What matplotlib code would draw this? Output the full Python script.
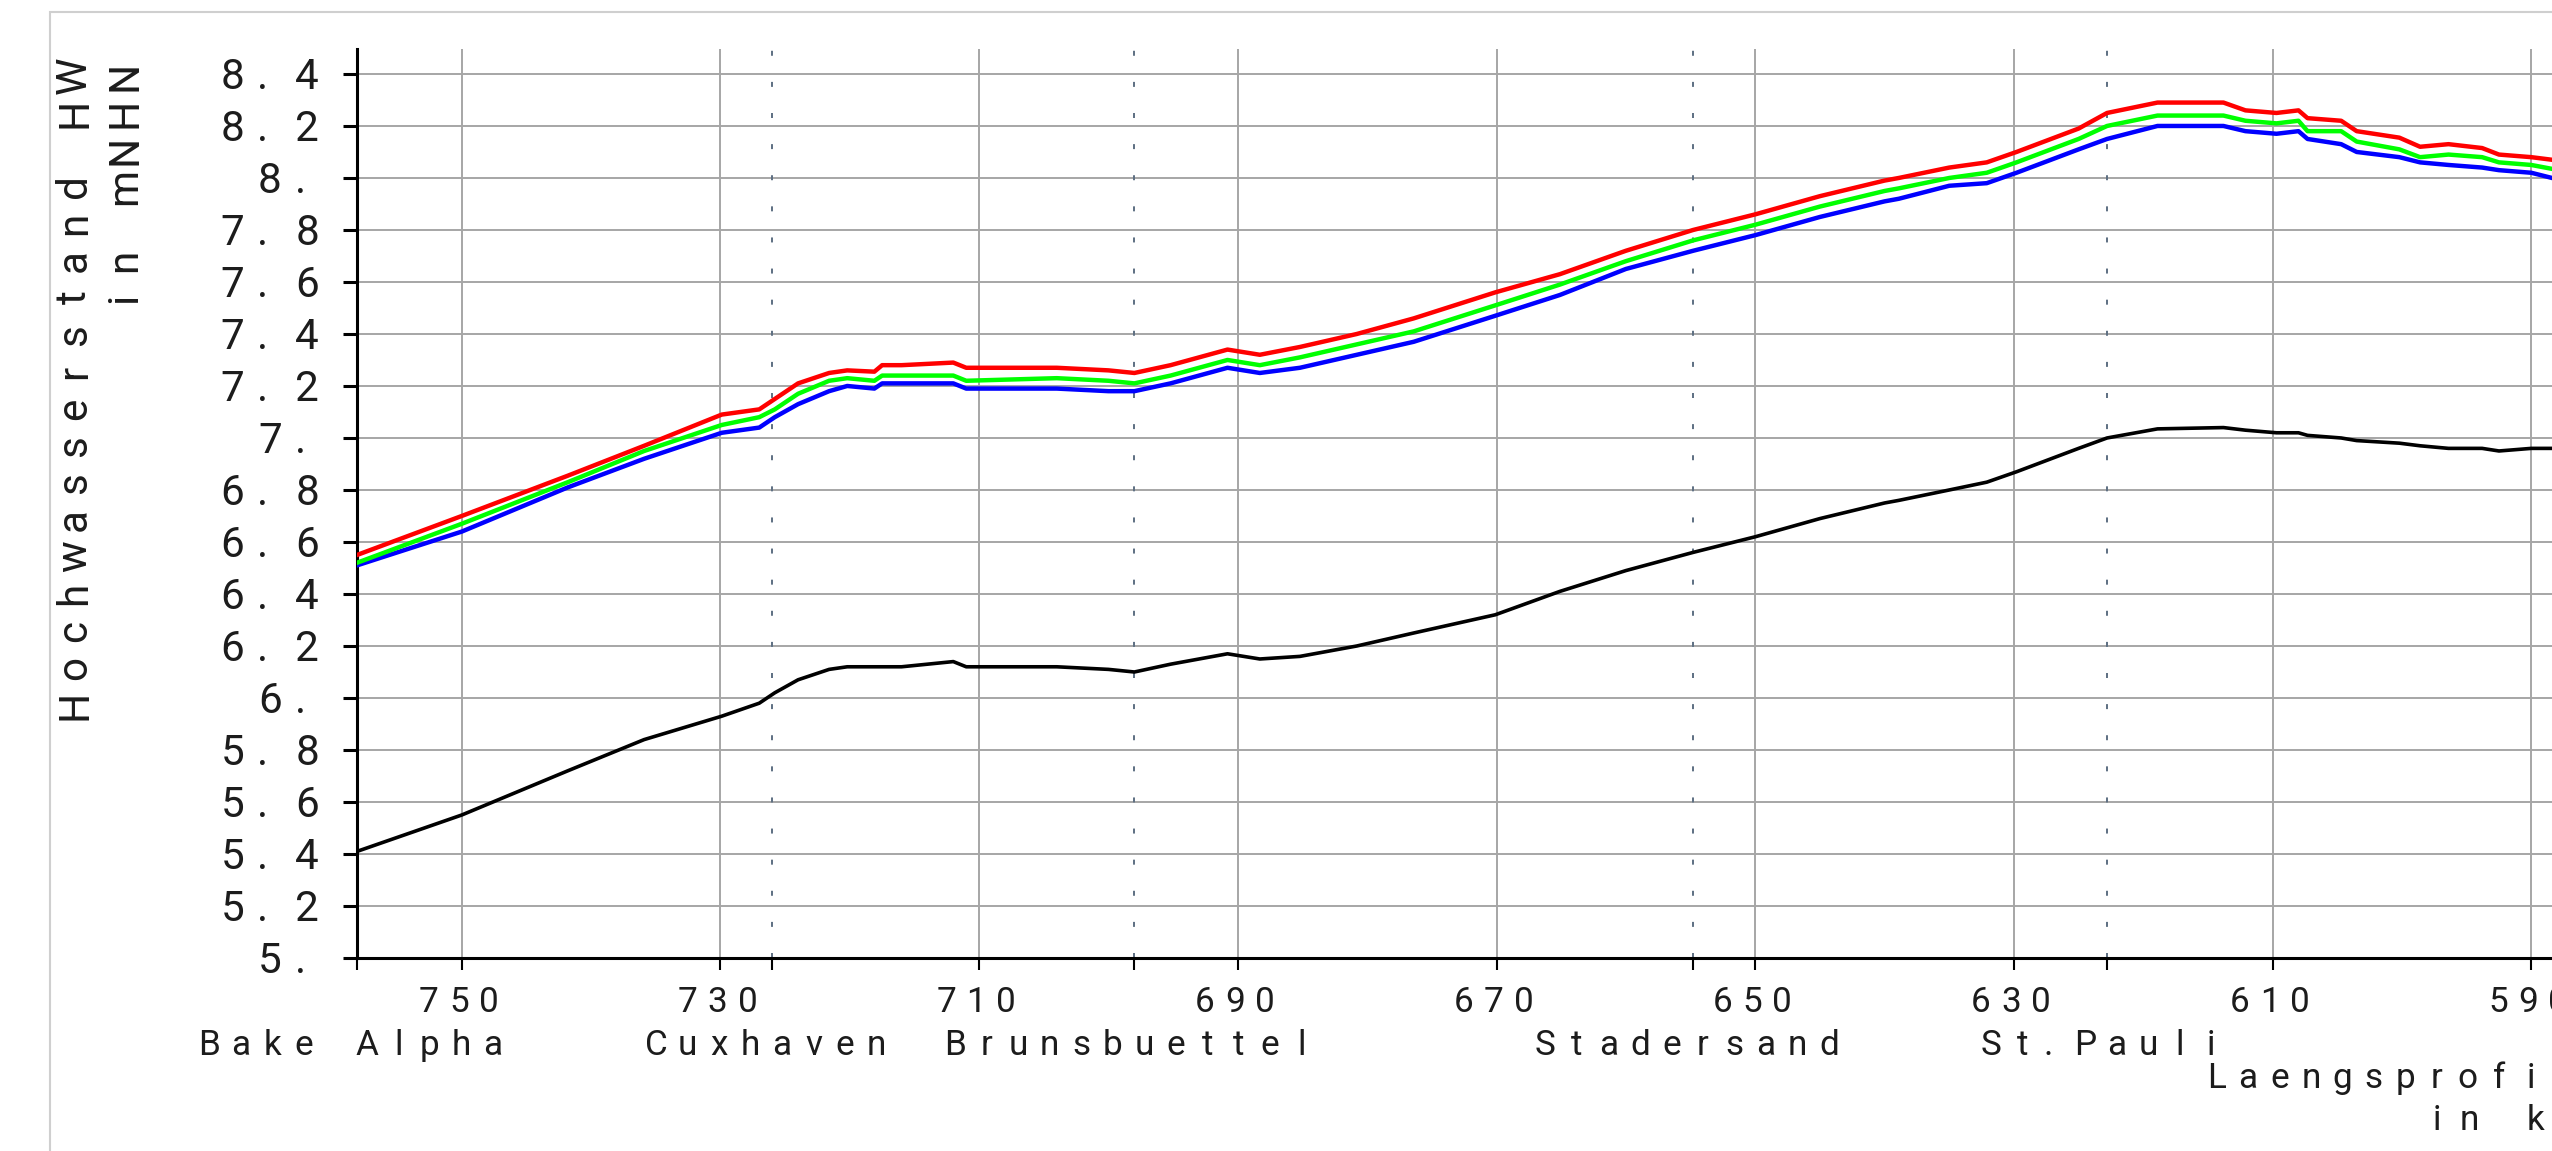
import numpy as np
import matplotlib
matplotlib.use("Agg")
import matplotlib.pyplot as plt
import matplotlib.transforms as mtransforms
from matplotlib.patches import Rectangle

plt.rcParams["lines.scale_dashes"] = False

### DATA
km = [758.1, 750.0, 741.8, 735.9, 729.9, 727.0, 725.8, 724.0, 721.6, 720.2,
      718.1, 717.5, 716.0, 712.0, 711.0, 704.0, 700.0, 698.0, 695.2, 690.8,
      688.3, 685.2, 680.8, 676.4, 670.1, 665.1, 660.0, 654.8, 650.0, 645.0,
      640.0, 638.9, 635.0, 632.1, 629.8, 625.0, 622.8, 618.9, 613.8, 612.1,
      609.7, 608.0, 607.3, 604.7, 603.5, 600.2, 598.6, 596.4, 593.8, 592.5,
      590.0, 588.4]
hw_black = [5.41, 5.55, 5.72, 5.84, 5.93, 5.98, 6.02, 6.07, 6.11, 6.12,
            6.12, 6.12, 6.12, 6.14, 6.12, 6.12, 6.11, 6.10, 6.13, 6.17,
            6.15, 6.16, 6.20, 6.25, 6.32, 6.41, 6.49, 6.56, 6.62, 6.69,
            6.75, 6.76, 6.80, 6.83, 6.87, 6.96, 7.00, 7.035, 7.04, 7.03,
            7.02, 7.02, 7.01, 7.00, 6.99, 6.98, 6.97, 6.96, 6.96, 6.95,
            6.96, 6.96]
hw_blue = [6.51, 6.64, 6.81, 6.92, 7.02, 7.04, 7.08, 7.13, 7.18, 7.20,
           7.19, 7.21, 7.21, 7.21, 7.19, 7.19, 7.18, 7.18, 7.21, 7.27,
           7.25, 7.27, 7.32, 7.37, 7.47, 7.55, 7.65, 7.72, 7.78, 7.85,
           7.91, 7.92, 7.97, 7.98, 8.02, 8.11, 8.15, 8.20, 8.20, 8.18,
           8.17, 8.18, 8.15, 8.13, 8.10, 8.08, 8.06, 8.05, 8.04, 8.03,
           8.02, 8.00]
hw_green = [6.52, 6.67, 6.83, 6.95, 7.05, 7.08, 7.11, 7.17, 7.22, 7.23,
            7.22, 7.24, 7.24, 7.24, 7.22, 7.23, 7.22, 7.21, 7.24, 7.30,
            7.28, 7.31, 7.36, 7.41, 7.51, 7.59, 7.68, 7.76, 7.82, 7.89,
            7.95, 7.96, 8.00, 8.02, 8.06, 8.15, 8.20, 8.24, 8.24, 8.22,
            8.21, 8.22, 8.18, 8.18, 8.14, 8.11, 8.08, 8.09, 8.08, 8.06,
            8.05, 8.035]
hw_red = [6.55, 6.70, 6.855, 6.97, 7.09, 7.11, 7.15, 7.21, 7.25, 7.26,
          7.255, 7.28, 7.28, 7.29, 7.27, 7.27, 7.26, 7.25, 7.28, 7.34,
          7.32, 7.35, 7.40, 7.46, 7.56, 7.63, 7.72, 7.80, 7.86, 7.93,
          7.99, 8.00, 8.04, 8.06, 8.10, 8.19, 8.25, 8.29, 8.29, 8.26,
          8.25, 8.26, 8.23, 8.22, 8.18, 8.155, 8.12, 8.13, 8.115, 8.09,
          8.08, 8.07]

station_names = ["Bake Alpha", "Cuxhaven", "Brunsbuettel", "Stadersand", "St.Pauli"]
station_km = [758.1, 726.0, 698.0, 654.8, 622.8]

x_ticks = [750, 730, 710, 690, 670, 650, 630, 610, 590]
x_labels = ["750", "730", "710", "690", "670", "650", "630", "610", "590"]
y_ticks = [5.0, 5.2, 5.4, 5.6, 5.8, 6.0, 6.2, 6.4, 6.6, 6.8,
           7.0, 7.2, 7.4, 7.6, 7.8, 8.0, 8.2, 8.4]
y_labels = ["5.", "5.2", "5.4", "5.6", "5.8", "6.", "6.2", "6.4", "6.6", "6.8",
            "7.", "7.2", "7.4", "7.6", "7.8", "8.", "8.2", "8.4"]

ylabel_lines = ["Hochwasserstand HW", "in mNHN"]
xlabel_lines = ["Laengsprofil", "in km"]

FONT = ["Roboto", "DejaVu Sans"]
TXT = "#1c1c1c"

W, H = 2552, 1151
fig = plt.figure(figsize=(W / 100, H / 100), dpi=100)

# frame around the plot area (cut off at the right/bottom like the screenshot)
fig.patches.append(Rectangle((50 / W, -0.2), 1.3, (H - 12) / H + 0.2,
                             transform=fig.transFigure, fill=False,
                             ec="#cfcfcf", lw=1.5))

ax = fig.add_axes([357 / W, 193 / H, (W - 357) / W, (1102 - 193) / H])
ax.set_xlim(758.1, 588.4)
ax.set_ylim(5.0, 8.496)


def spaced_text(x, y, s, trans, pitch, size, dx=0.0, dy=0.0, ha="center", rot=0):
    # plotter style text: every character sits in a cell of fixed width
    n = len(s)
    if ha == "left":
        first = 0.5
    elif ha == "right":
        first = -(n - 0.5)
    else:
        first = -(n - 1) / 2.0
    for i, ch in enumerate(s):
        if ch == " ":
            continue
        d = (first + i) * pitch
        if ch == ".":
            d -= 0.18 * pitch
        if rot == 0:
            tr = mtransforms.offset_copy(trans, fig=fig, x=dx + d, y=dy, units="dots")
        else:
            tr = mtransforms.offset_copy(trans, fig=fig, x=dx, y=dy + d, units="dots")
        fig.text(x, y, ch, transform=tr, ha="center", va="baseline",
                 rotation=rot, rotation_mode="anchor", fontsize=size,
                 family=FONT, weight="normal", color=TXT)


# grid + axes
ax.set_axisbelow(True)
ax.set_xticks(x_ticks)
ax.set_yticks(y_ticks)
ax.set_xticks(station_km, minor=True)
ax.grid(True, which="major", color="#a6a6a6", lw=1.4)
for side in ["top", "right"]:
    ax.spines[side].set_visible(False)
for side in ["left", "bottom"]:
    ax.spines[side].set_linewidth(2.2)
    ax.spines[side].set_color("black")
ax.tick_params(axis="y", direction="out", length=10, width=2.2, labelleft=False)
ax.tick_params(axis="x", which="both", direction="out", length=8.6, width=1.5,
               labelbottom=False)

# station lines
for k in station_km:
    ax.axvline(k, color="#5d6f82", lw=1.4, dashes=(3.6, 18.8), zorder=1.6)

# curves
ax.plot(km, hw_black, color="black", lw=2.6, zorder=3)
ax.plot(km, hw_blue, color="#0000ff", lw=3.2, zorder=3)
ax.plot(km, hw_green, color="#00ff00", lw=3.2, zorder=3)
ax.plot(km, hw_red, color="#ff0000", lw=3.2, zorder=3)

# tick labels
for v, lab in zip(y_ticks, y_labels):
    spaced_text(0, v, lab, ax.get_yaxis_transform(), 37.5, 30.4,
                dx=-31, dy=-15, ha="right")
for v, lab in zip(x_ticks, x_labels):
    spaced_text(v, 0, lab, ax.get_xaxis_transform(), 30, 25.3, dx=-3, dy=-54)
for k, name in zip(station_km, station_names):
    spaced_text(k, 0, name, ax.get_xaxis_transform(), 31.5, 25.3, dx=-6, dy=-97)

# axis titles
pix = mtransforms.IdentityTransform()
spaced_text(86, H - 57, ylabel_lines[0], pix, 37, 30.4, ha="right", rot=90)
spaced_text(136, H - 57, ylabel_lines[1], pix, 37, 30.4, ha="right", rot=90)
spaced_text(2201, H - 1088, xlabel_lines[0], pix, 31.4, 25.3, ha="left")
spaced_text(2420, H - 1130, xlabel_lines[1], pix, 33, 25.3, ha="left")

fig.savefig("out.png", dpi=100)
